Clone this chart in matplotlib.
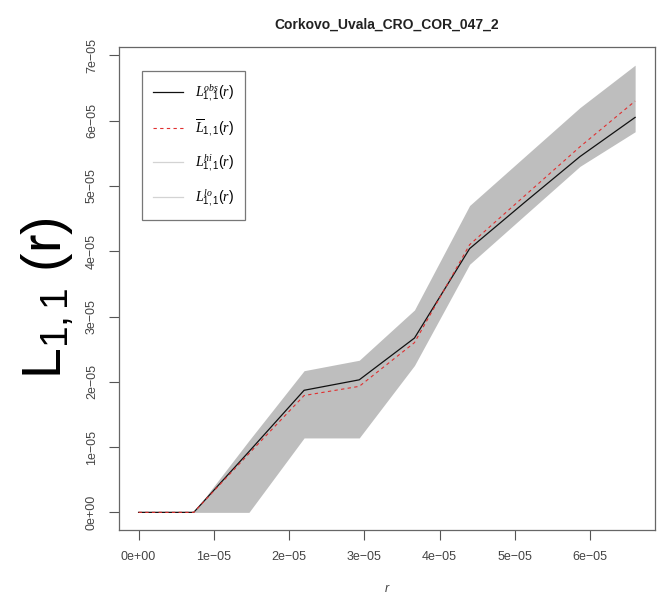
import matplotlib
matplotlib.use("Agg")
import matplotlib.pyplot as plt
import numpy as np

plt.rcParams["font.family"] = ["Liberation Sans", "DejaVu Sans"]
plt.rcParams["mathtext.fontset"] = "custom"
plt.rcParams["mathtext.rm"] = "Liberation Sans"
plt.rcParams["mathtext.it"] = "Liberation Serif:italic"

# values (units of 1e-05)
r = [0, 0.733, 1.467, 2.2, 2.933, 3.667, 4.4, 5.133, 5.867, 6.6]
obs = [0, 0, 0.93, 1.87, 2.03, 2.67, 4.04, 4.75, 5.45, 6.05]
theo = [0, 0, 0.90, 1.79, 1.93, 2.60, 4.10, 4.85, 5.60, 6.30]
hi = [0, 0, 1.10, 2.17, 2.33, 3.10, 4.70, 5.45, 6.20, 6.85]
lo = [0, 0, 0.0, 1.14, 1.14, 2.25, 3.80, 4.55, 5.30, 5.83]

title = "Corkovo_Uvala_CRO_COR_047_2"
xticks = [0, 1, 2, 3, 4, 5, 6]
yticks = [0, 1, 2, 3, 4, 5, 6, 7]

scale = 1e-05
r = np.array(r) * scale
obs = np.array(obs) * scale
theo = np.array(theo) * scale
hi = np.array(hi) * scale
lo = np.array(lo) * scale

def sci(v):
    return "0e+00" if v == 0 else f"{v}e\u221205"

fig = plt.figure(figsize=(6.67, 6.06), dpi=100)
ax = fig.add_axes([0.178, 0.125, 0.804, 0.797])

ax.fill_between(r, lo, hi, color="#bebebe", linewidth=0)
ax.plot(r, obs, color="#111111", linewidth=0.9, label=r"$L^{obs}_{1,1}(r)$")
ax.plot(r, theo, color="#e03030", linestyle=(0, (3, 3)), linewidth=0.8, label=r"$\overline{L}_{1,1}(r)$")
ax.plot([], [], color="#d3d3d3", linewidth=0.9, label=r"$L^{hi}_{1,1}(r)$")
ax.plot([], [], color="#d3d3d3", linewidth=0.9, label=r"$L^{lo}_{1,1}(r)$")

xr = r.max() - r.min()
ax.set_xlim(r.min() - 0.04 * xr, r.max() + 0.04 * xr)
yr = hi.max()
ax.set_ylim(-0.04 * yr, yr * 1.04)

ax.set_xticks([t * scale for t in xticks])
ax.set_xticklabels([sci(t) for t in xticks])
ax.set_yticks([t * scale for t in yticks])
ax.set_yticklabels([sci(t) for t in yticks], rotation=90, va="center")

ax.tick_params(axis="both", direction="out", length=7, width=0.8, color="#555555",
               labelsize=9, labelcolor="#444444", pad=8)
for s in ax.spines.values():
    s.set_color("#666666")
    s.set_linewidth(0.9)

ax.set_title(title, fontsize=10, fontweight="bold", pad=13, color="#222222")
ax.set_xlabel("r", fontstyle="italic", fontsize=9, labelpad=14, color="#444444")
ax.set_ylabel(r"L$_{\mathrm{1,1}}$ (r)", fontsize=40)
ax.yaxis.set_label_coords(-0.08, 0.48)

leg = ax.legend(loc="upper left", bbox_to_anchor=(0.03, 0.965), fontsize=10,
                frameon=True, fancybox=False, edgecolor="#555555",
                handlelength=2.2, labelspacing=1.0, borderpad=0.8)
leg.get_frame().set_linewidth(0.9)

fig.savefig("out.png", dpi=100)
